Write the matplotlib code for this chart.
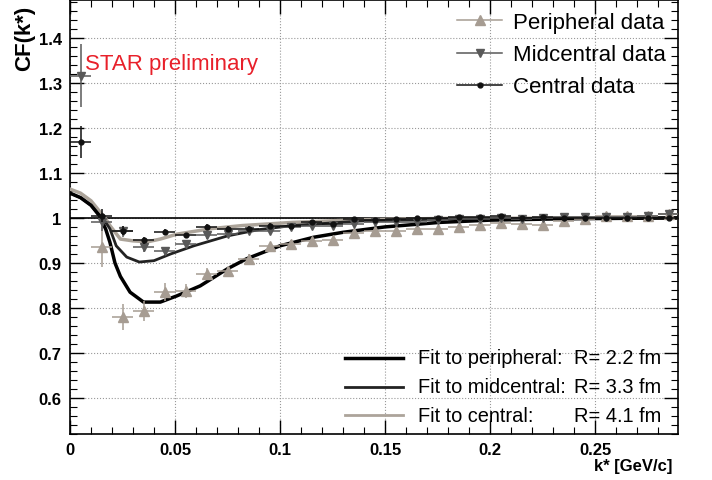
import matplotlib
matplotlib.use("Agg")
import matplotlib.pyplot as plt
from matplotlib.lines import Line2D
from matplotlib.ticker import MultipleLocator, FormatStrFormatter

plt.rcParams['font.family'] = ['Liberation Sans', 'DejaVu Sans']

# data
k_bins = [0.005 + 0.01 * i for i in range(29)]

periph_k = k_bins[1:]
periph_cf = [0.935, 0.78, 0.793, 0.835, 0.838, 0.876, 0.882, 0.909, 0.937, 0.942,
             0.949, 0.951, 0.966, 0.971, 0.972, 0.975, 0.976, 0.98, 0.984, 0.989,
             0.987, 0.984, 0.994, 0.998, 1.005, 1.005, 1.005, 1.009]
periph_err = [0.045, 0.028, 0.022, 0.02, 0.015, 0.012, 0.01, 0.01, 0.008, 0.008,
              0.007, 0.006, 0.006, 0.006, 0.006, 0.005, 0.005, 0.005, 0.005, 0.005,
              0.005, 0.005, 0.005, 0.005, 0.005, 0.005, 0.005, 0.005]

mid_k = k_bins
mid_cf = [1.316, 0.99, 0.97, 0.935, 0.927, 0.942, 0.961, 0.964, 0.972, 0.972,
          0.98, 0.983, 0.983, 0.987, 0.99, 0.99, 0.992, 0.995, 0.998, 0.997,
          1.0, 0.998, 1.0, 1.003, 1.002, 1.003, 1.002, 1.004, 1.008]
mid_err = [0.07, 0.02, 0.012, 0.01, 0.009, 0.008, 0.007, 0.006, 0.006, 0.005,
           0.005, 0.005, 0.005, 0.005, 0.005, 0.005, 0.005, 0.005, 0.005, 0.005,
           0.005, 0.005, 0.005, 0.005, 0.005, 0.005, 0.005, 0.005, 0.005]

cen_k = k_bins
cen_cf = [1.169, 1.005, 0.972, 0.95, 0.969, 0.961, 0.98, 0.976, 0.976, 0.983,
          0.983, 0.99, 0.987, 0.998, 0.995, 0.997, 1.0, 1.0, 1.003, 1.002,
          1.004, 1.0, 1.002, 1.0, 1.0, 1.0, 1.0, 1.0, 1.0]
cen_err = [0.035, 0.015, 0.01, 0.008, 0.007, 0.006, 0.006, 0.005, 0.005, 0.005,
           0.004, 0.004, 0.004, 0.004, 0.004, 0.004, 0.004, 0.004, 0.004, 0.004,
           0.004, 0.004, 0.004, 0.004, 0.004, 0.004, 0.004, 0.004, 0.004]

fit_p_k = [0, 0.005, 0.01, 0.014, 0.017, 0.019, 0.0214, 0.024, 0.0286, 0.035, 0.043,
           0.051, 0.062, 0.075, 0.084, 0.1, 0.116, 0.13, 0.15, 0.176, 0.2, 0.235, 0.29]
fit_p_cf = [1.055, 1.045, 1.028, 1.005, 0.975, 0.946, 0.90, 0.87, 0.835, 0.813, 0.813,
            0.827, 0.849, 0.887, 0.909, 0.938, 0.957, 0.968, 0.98, 0.99, 0.995, 0.998, 1.0]

fit_m_k = [0, 0.005, 0.01, 0.014, 0.017, 0.019, 0.022, 0.027, 0.033, 0.04, 0.048,
           0.059, 0.075, 0.09, 0.106, 0.138, 0.18, 0.29]
fit_m_cf = [1.055, 1.045, 1.028, 1.005, 0.99, 0.976, 0.938, 0.913, 0.902, 0.905, 0.92,
            0.938, 0.96, 0.974, 0.983, 0.993, 0.998, 1.0]

fit_c_k = [0, 0.005, 0.01, 0.014, 0.017, 0.019, 0.024, 0.03, 0.037, 0.043, 0.051,
           0.067, 0.082, 0.106, 0.138, 0.18, 0.29]
fit_c_cf = [1.064, 1.055, 1.038, 1.015, 0.998, 0.983, 0.953, 0.949, 0.947, 0.953, 0.964,
            0.976, 0.983, 0.99, 0.996, 0.999, 1.0]

fit_labels = ["Fit to peripheral:", "Fit to midcentral:", "Fit to central:"]
fit_radii = ["R= 2.2 fm", "R= 3.3 fm", "R= 4.1 fm"]

c_periph = "#a69c92"
c_mid = "#595959"
c_cen = "#111111"
c_fit_c = "#aca49a"

fig = plt.figure(figsize=(7.12, 4.81), dpi=100)
ax = fig.add_axes([70 / 712, 1 - 435 / 481, 608 / 712, 434 / 481])

ax.set_xlim(0, 0.2895)
ax.set_ylim(0.52, 1.484)

ax.grid(True, which="major", linestyle=":", color="#999999", linewidth=0.8)
ax.axhline(1.0, color="black", linewidth=1.2, zorder=2)

# fits
ax.plot(fit_c_k, fit_c_cf, color=c_fit_c, linewidth=2.5, zorder=3)
ax.plot(fit_m_k, fit_m_cf, color="#222222", linewidth=2.0, zorder=3)
ax.plot(fit_p_k, fit_p_cf, color="black", linewidth=2.5, zorder=3)

# data
ax.errorbar(periph_k, periph_cf, yerr=periph_err, xerr=0.005, fmt="^", color=c_periph,
            markersize=6.5, elinewidth=1.1, capsize=0, zorder=4)
ax.errorbar(mid_k, mid_cf, yerr=mid_err, xerr=0.005, fmt="v", color=c_mid,
            markersize=6, elinewidth=1.1, capsize=0, zorder=4)
ax.errorbar(cen_k, cen_cf, yerr=cen_err, xerr=0.005, fmt="o", color=c_cen,
            markersize=3.5, elinewidth=1.1, capsize=0, zorder=5)

# axes style (ROOT like)
ax.xaxis.set_major_locator(MultipleLocator(0.05))
ax.xaxis.set_minor_locator(MultipleLocator(0.01))
ax.yaxis.set_major_locator(MultipleLocator(0.1))
ax.yaxis.set_minor_locator(MultipleLocator(0.02))
ax.xaxis.set_major_formatter(FormatStrFormatter("%g"))
ax.yaxis.set_major_formatter(FormatStrFormatter("%g"))
ax.tick_params(which="both", direction="in", top=True, right=True)
ax.tick_params(which="major", length=10, width=1.0, labelsize=12, pad=6)
ax.tick_params(which="minor", length=5, width=0.8)
for lab in ax.get_xticklabels() + ax.get_yticklabels():
    lab.set_fontweight("bold")
for s in ax.spines.values():
    s.set_linewidth(1.2)

fig.text(25 / 712, 1 - 6 / 481, "CF(k*)", rotation=90, ha="center", va="top",
         fontsize=16, fontweight="bold")
fig.text(672 / 712, 1 - 466 / 481, "k* [GeV/c]", ha="right", va="center",
         fontsize=12, fontweight="bold")

fig.text(85 / 712, 1 - 65 / 481, "STAR preliminary", fontsize=16, color="#e8202a",
         ha="left", va="center")

# data legend
handles = [Line2D([], [], color=c_periph, marker="^", markersize=6.5, linewidth=1.1),
           Line2D([], [], color=c_mid, marker="v", markersize=6, linewidth=1.1),
           Line2D([], [], color=c_cen, marker="o", markersize=3.5, linewidth=1.1)]
ax.legend(handles, ["Peripheral data", "Midcentral data", "Central data"],
          loc="upper right", bbox_to_anchor=(1.0, 1.0), frameon=False, fontsize=16,
          handlelength=2.0, handletextpad=0.5, labelspacing=0.5, borderaxespad=0.15)

# fit legend (drawn by hand to keep the R column aligned)
fit_colors = ["black", "#222222", c_fit_c]
fit_widths = [2.5, 2.0, 2.0]
for i in range(3):
    yy = 1 - (359 + i * 28.5) / 481
    fig.add_artist(Line2D([345 / 712, 403 / 712], [yy, yy], color=fit_colors[i],
                          linewidth=fit_widths[i]))
    fig.text(418 / 712, yy, fit_labels[i], fontsize=14.4, ha="left", va="center")
    fig.text(574 / 712, yy, fit_radii[i], fontsize=14.4, ha="left", va="center")

fig.savefig("out.png", dpi=100)
